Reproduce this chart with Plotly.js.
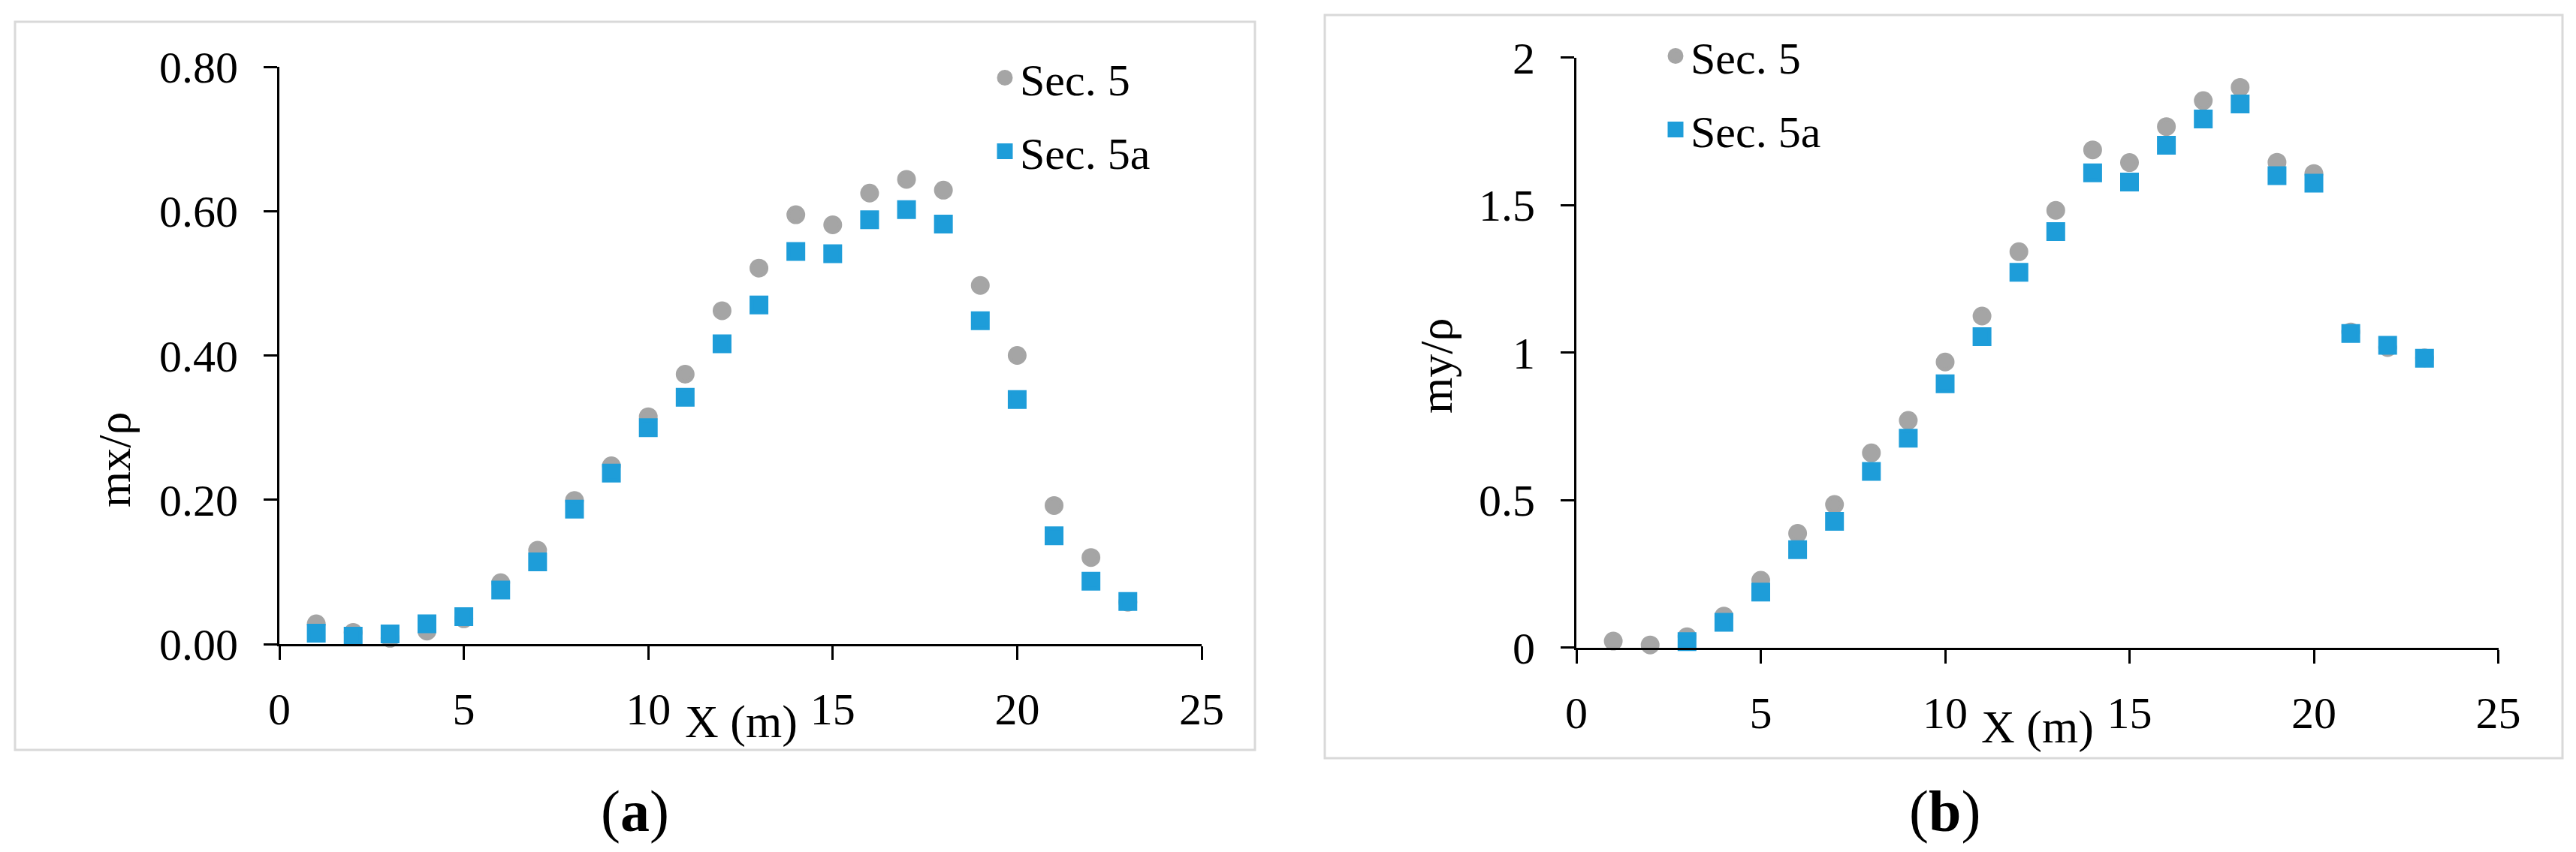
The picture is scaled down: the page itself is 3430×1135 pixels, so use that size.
<!DOCTYPE html>
<html>
<head>
<meta charset="utf-8">
<script src="https://cdn.plot.ly/plotly-3.0.1.min.js"></script>
<style>html,body{margin:0;padding:0;background:#fff;}#chart{width:3430px;height:1135px;}</style>
</head>
<body>
<div id="chart"></div>
<script>
// ---- data ----
var xPos = [1,2,3,4,5,6,7,8,9,10,11,12,13,14,15,16,17,18,19,20,21,22,23];
// panel (a) mx/rho
var mxSec5  = [0.028,0.016,0.008,0.018,0.035,0.085,0.130,0.199,0.247,0.315,0.374,0.462,0.521,0.595,0.581,0.625,0.644,0.629,0.497,0.400,0.192,0.120,0.058];
var mxSec5a = [0.015,0.011,0.014,0.028,0.038,0.075,0.114,0.187,0.237,0.300,0.342,0.416,0.470,0.544,0.541,0.588,0.602,0.582,0.448,0.339,0.150,0.087,0.059];
// panel (b) my/rho
var mySec5  = [0.022,0.009,0.037,0.107,0.228,0.387,0.485,0.660,0.770,0.968,1.124,1.342,1.482,1.687,1.644,1.766,1.854,1.899,1.645,1.607,1.070,1.017,0.982];
var mySec5a = [null,null,0.020,0.086,0.188,0.332,0.428,0.597,0.710,0.894,1.054,1.272,1.410,1.609,1.578,1.703,1.792,1.843,1.600,1.574,1.065,1.025,0.981];
var seriesNames = ['Sec. 5', 'Sec. 5a'];
var xTickVals = [0,5,10,15,20,25];
var yTickValsA = [0,0.2,0.4,0.6,0.8];
var yTickValsB = [0,0.5,1,1.5,2];

// ---- styling ----
var W = 3430, H = 1135;
var FONT = '"Liberation Serif", "Times New Roman", serif';
var GRAY = '#A5A5A5', BLUE = '#1E9DD9';
function px(x){ return x / W; }
function py(y){ return 1 - y / H; }

function mk(x, y, name, color, symbol, xa, ya, leg, grp){
  return {
    type: 'scatter', mode: 'markers', x: x, y: y, name: name,
    xaxis: xa, yaxis: ya, legend: leg, legendgroup: grp,
    cliponaxis: false,
    marker: {color: color, symbol: symbol, size: 20, line: {width: 5, color: color}}
  };
}

var traces = [
  mk(xPos, mxSec5,  seriesNames[0], GRAY, 'circle', 'x',  'y',  'legend',  'a1'),
  mk(xPos, mxSec5a, seriesNames[1], BLUE, 'square', 'x',  'y',  'legend',  'a2'),
  mk(xPos, mySec5,  seriesNames[0], GRAY, 'circle', 'x2', 'y2', 'legend2', 'b1'),
  mk(xPos, mySec5a, seriesNames[1], BLUE, 'square', 'x2', 'y2', 'legend2', 'b2')
];

function xAxis(dom, anchor){
  return {
    domain: dom, anchor: anchor, range: [0,25], tickvals: xTickVals,
    showline: true, linecolor: '#000', linewidth: 3, mirror: false,
    ticks: 'outside', ticklen: 18, tickwidth: 3, tickcolor: '#000',
    showgrid: false, zeroline: false, fixedrange: true,
    tickfont: {family: FONT, size: 60, color: '#000'},
    ticklabelstandoff: 14
  };
}
function yAxis(dom, anchor, range, vals, fmt){
  return {
    domain: dom, anchor: anchor, range: range, tickvals: vals, tickformat: fmt,
    showline: true, linecolor: '#000', linewidth: 3,
    ticks: 'outside', ticklen: 18, tickwidth: 3, tickcolor: '#000',
    showgrid: false, zeroline: false, fixedrange: true,
    tickfont: {family: FONT, size: 60, color: '#000'},
    ticklabelstandoff: 22
  };
}

function legendAt(x, y){
  return {
    x: px(x), y: py(y), xanchor: 'left', yanchor: 'top',
    bgcolor: 'rgba(0,0,0,0)', borderwidth: 0,
    font: {family: FONT, size: 60, color: '#000'},
    traceorder: 'grouped', tracegroupgap: 17, itemwidth: 30
  };
}

function ann(text, x, y, size, angle){
  return {
    text: text, xref: 'paper', yref: 'paper', x: px(x), y: py(y),
    xanchor: 'center', yanchor: 'middle', showarrow: false,
    textangle: angle || 0,
    font: {family: FONT, size: size, color: '#000'}
  };
}

var layout = {
  width: W, height: H,
  margin: {l: 0, r: 0, t: 0, b: 0, pad: 0},
  paper_bgcolor: '#fff', plot_bgcolor: 'rgba(0,0,0,0)',
  showlegend: true,
  xaxis:  xAxis([px(372), px(1600)], 'y'),
  yaxis:  yAxis([py(858), py(89)], 'x', [0, 0.8], yTickValsA, '.2f'),
  xaxis2: xAxis([px(2099), px(3326.5)], 'y2'),
  yaxis2: yAxis([py(862.7), py(76.7)], 'x2', [0, 2], yTickValsB, ''),
  legend:  legendAt(1318, 58),
  legend2: legendAt(2211, 29),
  shapes: [
    {type: 'rect', xref: 'paper', yref: 'paper', x0: px(20), x1: px(1671), y0: py(29), y1: py(999),
     line: {color: '#D9D9D9', width: 3}, fillcolor: 'rgba(0,0,0,0)', layer: 'below'},
    {type: 'rect', xref: 'paper', yref: 'paper', x0: px(1764), x1: px(3412), y0: py(20), y1: py(1010),
     line: {color: '#D9D9D9', width: 3}, fillcolor: 'rgba(0,0,0,0)', layer: 'below'}
  ],
  annotations: [
    ann('mx/ρ', 152, 613, 62, -90),
    ann('my/ρ', 1912, 488, 62, -90),
    ann('X (m)', 987, 961, 62, 0),
    ann('X (m)', 2713, 968, 62, 0),
    ann('(<b>a</b>)', 845, 1080, 78, 0),
    ann('(<b>b</b>)', 2589, 1080, 78, 0)
  ]
};

Plotly.newPlot('chart', traces, layout, {displayModeBar: false, staticPlot: true});
</script>
</body>
</html>
